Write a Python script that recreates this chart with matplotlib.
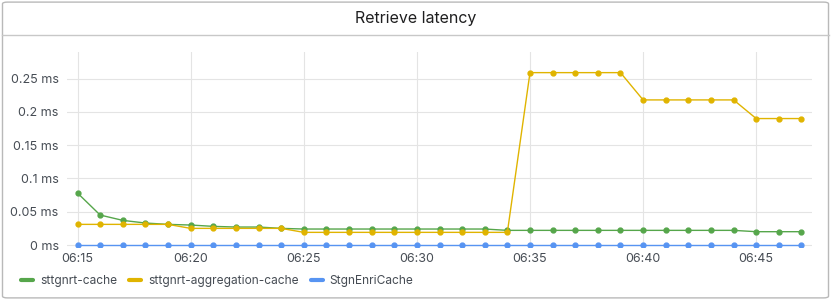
import matplotlib.pyplot as plt
import matplotlib.dates as mdates
from matplotlib.patches import FancyBboxPatch
import pandas as pd

plt.rcParams['font.family'] = ['Inter', 'DejaVu Sans']

times = ["06:15", "06:16", "06:17", "06:18", "06:19", "06:20", "06:21", "06:22",
         "06:23", "06:24", "06:25", "06:26", "06:27", "06:28", "06:29", "06:30",
         "06:31", "06:32", "06:33", "06:34", "06:35", "06:36", "06:37", "06:38",
         "06:39", "06:40", "06:41", "06:42", "06:43", "06:44", "06:45", "06:46", "06:47"]
sttgnrt_cache = [0.078, 0.045, 0.037, 0.033, 0.031, 0.030, 0.028, 0.027, 0.027, 0.025,
                 0.024, 0.024, 0.024, 0.024, 0.024, 0.024, 0.024, 0.024, 0.024, 0.022,
                 0.022, 0.022, 0.022, 0.022, 0.022, 0.022, 0.022, 0.022, 0.022, 0.022,
                 0.020, 0.020, 0.020]
aggregation_cache = [0.031, 0.031, 0.031, 0.031, 0.031, 0.025, 0.025, 0.025, 0.025, 0.025,
                     0.019, 0.019, 0.019, 0.019, 0.019, 0.019, 0.019, 0.019, 0.019, 0.019,
                     0.259, 0.259, 0.259, 0.259, 0.259, 0.218, 0.218, 0.218, 0.218, 0.218,
                     0.190, 0.190, 0.190]
enri_cache = [0.0] * 33
ytick_vals = [0, 0.05, 0.1, 0.15, 0.2, 0.25]

x = pd.to_datetime(["2024-01-01 " + t for t in times])

fig = plt.figure(figsize=(8.31, 3.0), dpi=100)

# panel frame and header
fig.patches.append(FancyBboxPatch((0.003, 0.007), 0.994, 0.986,
                                  boxstyle="round,pad=0,rounding_size=0.006",
                                  transform=fig.transFigure, fill=False,
                                  edgecolor="#b9b9b9", linewidth=1))
fig.add_artist(plt.Line2D([0.003, 0.997], [1 - 35/300, 1 - 35/300],
                          transform=fig.transFigure, color="#c8c8c8", linewidth=1))
fig.text(0.5, 1 - 18/300, "Retrieve latency", ha="center", va="center",
         fontsize=11.5, color="#1f1f20")

ax = fig.add_axes([67/831, 1 - 247/300, (812 - 67)/831, (247 - 52)/300])

series = [(sttgnrt_cache, "#56a64b", "sttgnrt-cache"),
          (aggregation_cache, "#e0b400", "sttgnrt-aggregation-cache"),
          (enri_cache, "#5794f2", "StgnEnriCache")]
handles = []
for vals, col, name in series:
    ax.plot(x, vals, color=col, linewidth=1, marker="o", markersize=3.5, zorder=3)
    h, = ax.plot([], [], color=col, linewidth=3, solid_capstyle="round", label=name)
    handles.append(h)

pad = pd.Timedelta(seconds=28)
ax.set_xlim(x[0] - pad, x[-1] + pad)
ax.set_ylim(-0.003, 0.29)
ax.xaxis.set_major_locator(mdates.MinuteLocator(byminute=range(0, 60, 5)))
ax.xaxis.set_major_formatter(mdates.DateFormatter("%H:%M"))
ax.set_yticks(ytick_vals)
ax.set_yticklabels([f"{v:g} ms" for v in ytick_vals])

ax.grid(True, color="#e4e4e4", linewidth=0.8)
for s in ax.spines.values():
    s.set_visible(False)
ax.tick_params(length=0, labelsize=9, colors="#464c54", pad=4)
ax.tick_params(axis="y", pad=6)

fig.legend(handles=handles, loc="lower left", bbox_to_anchor=(10/831, 0.008),
           ncol=3, frameon=False, fontsize=8.6, handlelength=1.0, handletextpad=0.6,
           columnspacing=1.0, labelcolor="#464c54")

fig.savefig("out.png", dpi=100)
